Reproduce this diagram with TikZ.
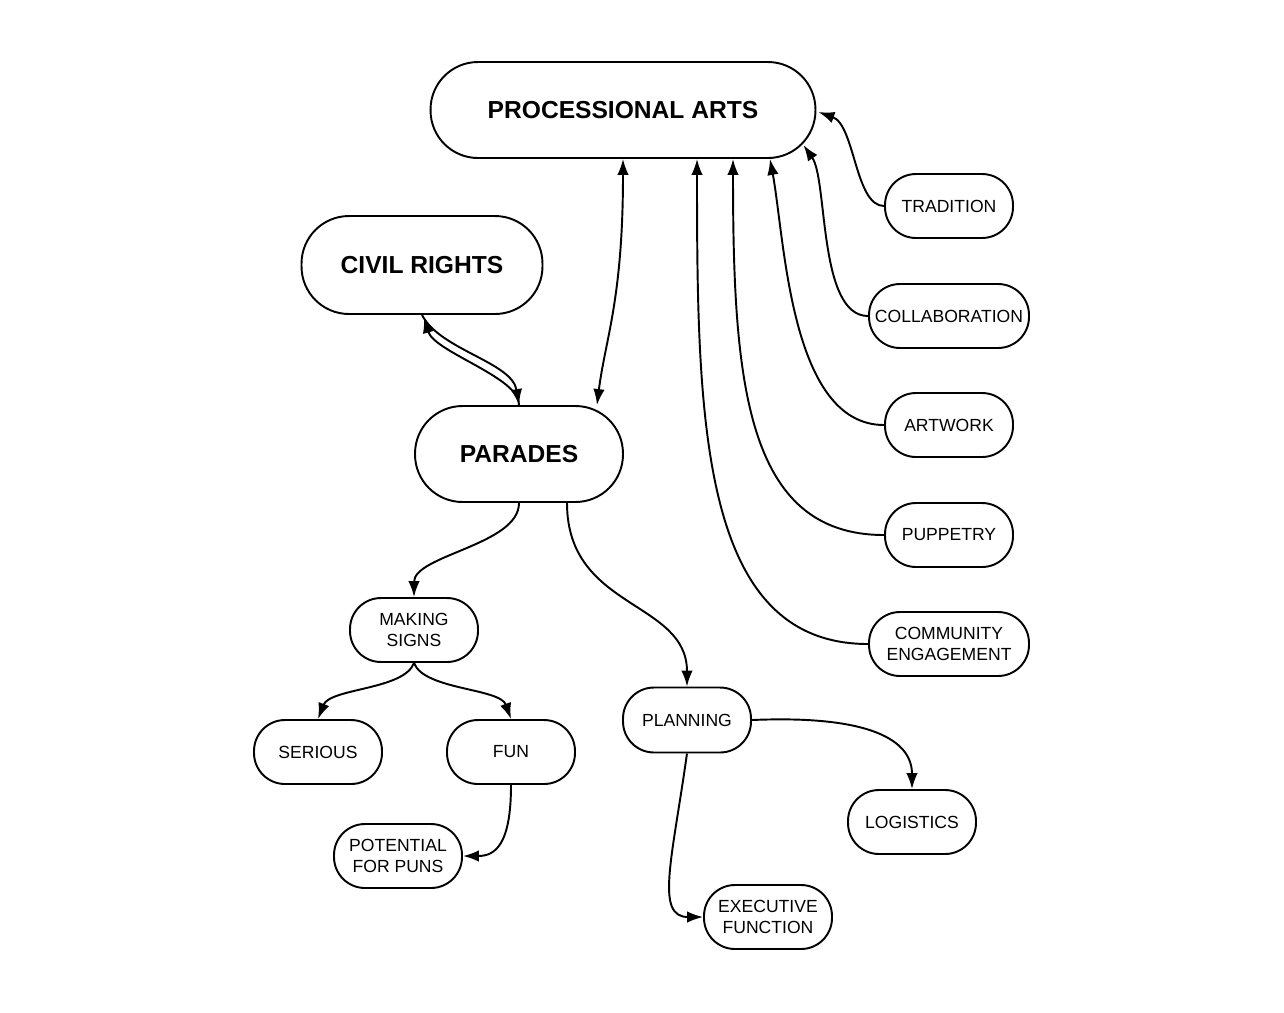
\documentclass[tikz,border=0pt]{standalone}
\usepackage{fontspec}
\setmainfont{Liberation Sans}
\usetikzlibrary{arrows.meta}
\begin{document}
\begin{tikzpicture}[x=0.02cm,y=-0.02cm,
  every path/.style={line width=1.1pt},
  big/.style={draw, rectangle, rounded corners=0.95cm, align=center, inner sep=0pt,
     font=\fontsize{14}{16}\selectfont\bfseries, minimum height=1.92cm},
  small/.style={draw, rectangle, rounded corners=0.62cm, align=center, inner sep=0pt,
     font=\fontsize{10}{12}\selectfont, minimum height=1.28cm, minimum width=2.56cm},
  wide/.style={small, minimum width=3.2cm},
  conn/.style={-{Latex[length=3.2mm,width=2.3mm]}},
  dconn/.style={{Latex[length=3.2mm,width=2.3mm]}-{Latex[length=3.2mm,width=2.3mm]}}
]
\path[use as bounding box] (0,0) rectangle (1284,1012);

\node[big, minimum width=7.7cm] (pa) at (623,110) {PROCESSIONAL ARTS};
\node[big, minimum width=4.82cm, minimum height=1.96cm] (cr) at (422,265) {CIVIL RIGHTS};
\node[big, minimum width=4.16cm] (par) at (519,454) {PARADES};

\node[small] (trad) at (949,206) {TRADITION};
\node[wide] (coll) at (949,316) {COLLABORATION};
\node[small] (art) at (949,425) {ARTWORK};
\node[small] (pup) at (949,535) {PUPPETRY};
\node[wide] (comm) at (949,644) {COMMUNITY\\ENGAGEMENT};

\node[small] (ms) at (414,630) {MAKING\\SIGNS};
\node[small] (ser) at (318,752) {SERIOUS};
\node[small] (fun) at (511,752) {FUN};
\node[small] (pun) at (398,856) {POTENTIAL\\FOR PUNS};
\node[small, minimum height=1.3cm] (plan) at (687,720) {PLANNING};
\node[small] (log) at (912,822) {LOGISTICS};
\node[small] (exec) at (768,917) {EXECUTIVE\\FUNCTION};

% parades <-> processional arts
\draw[dconn] (pa.south) .. controls (623,300) and (605,340) .. ([shift={(78,0)}]par.north);
% civil rights <-> parades
\draw[conn] (cr.south) .. controls (440,350) and (512,362) .. (par.north);
\draw[conn] (par.north) .. controls (521,378) and (434,352) .. ([shift={(2,2)}]cr.south);

% right column -> processional arts
\draw[conn] (trad.west) .. controls (855,206) and (855,125) .. ([shift={(2,2)}]pa.east);
\draw[conn] (coll.west) .. controls (818,316) and (828,180) .. ([shift={(-13,35)}]pa.east);
\draw[conn] (art.west) .. controls (790,425) and (785,240) .. ([shift={(147,0)}]pa.south);
\draw[conn] (pup.west) .. controls (745,535) and (733,380) .. ([shift={(110,0)}]pa.south);
\draw[conn] (comm.west) .. controls (700,644) and (697,420) .. ([shift={(74,0)}]pa.south);

% parades children
\draw[conn] (par.south) .. controls (519,545) and (414,555) .. (ms.north);
\draw[conn] ([shift={(48,0)}]par.south) .. controls (567,610) and (687,600) .. (plan.north);

% making signs children
\draw[conn] (ms.south) .. controls (404,690) and (330,688) .. (ser.north);
\draw[conn] (ms.south) .. controls (424,690) and (500,688) .. (fun.north);
\draw[conn] (fun.south) .. controls (511,845) and (495,856) .. (pun.east);

% planning children
\draw[conn] (plan.east) .. controls (870,715) and (912,740) .. (log.north);
\draw[conn] (plan.south) .. controls (672,860) and (655,917) .. (exec.west);
\end{tikzpicture}
\end{document}
